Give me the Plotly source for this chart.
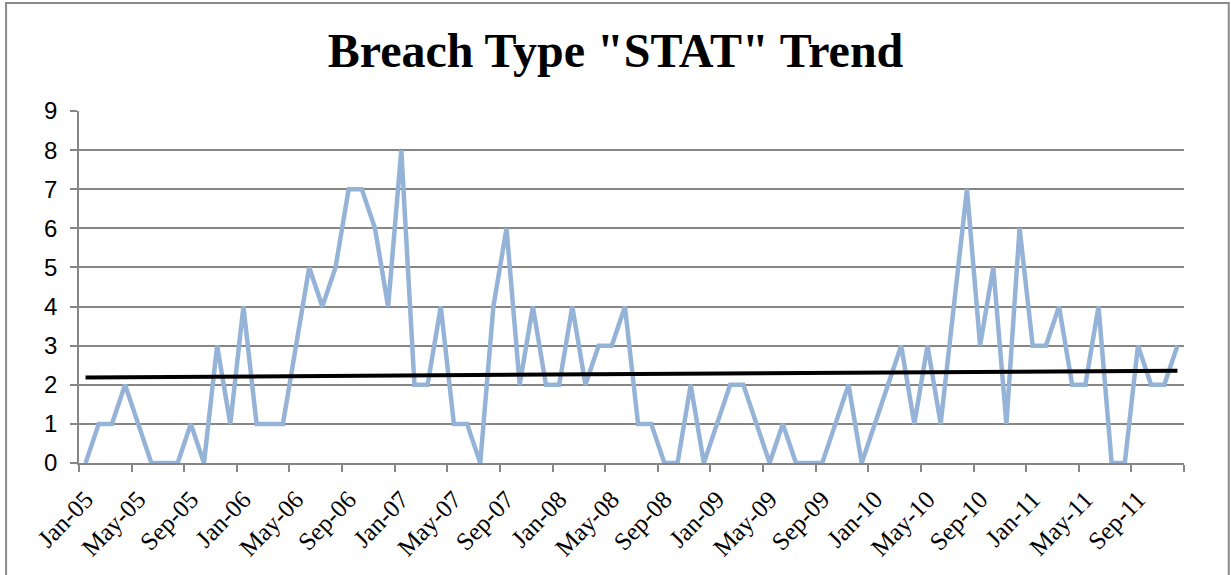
import numpy as np
import plotly.graph_objects as go

# monthly counts, Jan-05 .. Dec-11
months = [f"{m}-{y:02d}" for y in range(5, 12) for m in
          ["Jan", "Feb", "Mar", "Apr", "May", "Jun", "Jul", "Aug", "Sep", "Oct", "Nov", "Dec"]]
stat_counts = [
    0, 1, 1, 2, 1, 0, 0, 0, 1, 0, 3, 1,
    4, 1, 1, 1, 3, 5, 4, 5, 7, 7, 6, 4,
    8, 2, 2, 4, 1, 1, 0, 4, 6, 2, 4, 2,
    2, 4, 2, 3, 3, 4, 1, 1, 0, 0, 2, 0,
    1, 2, 2, 1, 0, 1, 0, 0, 0, 1, 2, 0,
    1, 2, 3, 1, 3, 1, 4, 7, 3, 5, 1, 6,
    3, 3, 4, 2, 2, 4, 0, 0, 3, 2, 2, 3,
]
label_every = 4

x_idx = np.arange(len(months))
# linear trend, like the Excel trendline
slope, intercept = np.polyfit(x_idx, stat_counts, 1)
trend = slope * x_idx + intercept

GRID = "#868686"

fig = go.Figure()
fig.add_trace(go.Scatter(
    x=x_idx, y=stat_counts, mode="lines",
    line=dict(color="#95B3D7", width=4.5),
    name="STAT",
))
fig.add_trace(go.Scatter(
    x=x_idx, y=trend, mode="lines",
    line=dict(color="#000000", width=4),
    name="Linear (STAT)",
))

fig.update_layout(
    width=1231, height=575,
    margin=dict(l=79, r=47, t=111, b=112),
    paper_bgcolor="white", plot_bgcolor="white",
    showlegend=False,
    title=dict(
        text='Breach Type "STAT" Trend',
        x=0.5, xanchor="center", y=0.912, yanchor="middle",
        font=dict(family="Liberation Serif", size=48, color="black", weight="bold"),
    ),
)
fig.update_xaxes(
    automargin=False,
    range=[-0.5, len(months) - 0.5],
    tickvals=x_idx[::label_every],
    ticktext=months[::label_every],
    ticks="", tickangle=-46,
    tickfont=dict(family="Liberation Serif", size=25, color="black"),
    ticklabelstandoff=10,
    showgrid=False, zeroline=False,
    showline=True, linecolor=GRID, linewidth=1.5,
    minor=dict(
        tickvals=list(np.arange(-0.5, len(months), label_every)),
        ticks="outside", ticklen=7, tickcolor=GRID, tickwidth=1.5, showgrid=False,
    ),
)
fig.update_yaxes(
    automargin=False,
    range=[0, 9], dtick=1,
    ticks="outside", ticklen=7, tickcolor=GRID, tickwidth=1.5,
    tickfont=dict(family="Liberation Sans", size=24, color="black"),
    ticklabelstandoff=8,
    showgrid=True, gridcolor=GRID, gridwidth=1.5,
    zeroline=False,
    showline=True, linecolor=GRID, linewidth=1.5,
)

# chart area border
fig.add_shape(
    type="rect", xref="paper", yref="paper",
    x0=-0.066, x1=1.0405, y0=-0.45, y1=1.307,
    line=dict(color="#8a8a8a", width=2), fillcolor="rgba(0,0,0,0)",
    layer="below",
)

# drop the page's default body margin so the figure sits at (0, 0)
fig.write_html(
    "out.html",
    config={"displayModeBar": False},
    post_script="document.body.style.margin='0';",
)
